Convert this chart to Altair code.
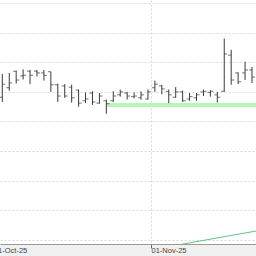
import altair as alt
import pandas as pd

# OHLC prices per trading day (index 0 = first visible bar)
highs  = [12.80, 12.82, 12.86, 12.88, 12.87, 12.87, 12.87, 12.84, 12.64, 12.63,
          12.62, 12.54, 12.49, 12.51, 12.48, 12.37, 12.51, 12.54, 12.50, 12.49,
          12.51, 12.54, 12.69, 12.62, 12.54, 12.58, 12.52, 12.48, 12.48, 12.54,
          12.53, 12.50, 13.40, 13.21, 12.83, 13.01, 12.92]
lows   = [12.33, 12.52, 12.64, 12.71, 12.63, 12.76, 12.69, 12.50, 12.33, 12.40,
          12.32, 12.25, 12.31, 12.28, 12.30, 12.13, 12.33, 12.42, 12.37, 12.39,
          12.37, 12.37, 12.50, 12.46, 12.31, 12.40, 12.33, 12.35, 12.35, 12.43,
          12.42, 12.32, 12.50, 12.62, 12.63, 12.70, 12.65]
opens  = [12.41, 12.57, 12.85, 12.77, 12.85, 12.85, 12.82, 12.84, 12.62, 12.60,
          12.58, 12.53, 12.35, 12.48, 12.31, 12.35, 12.35, 12.45, 12.48, 12.42,
          12.40, 12.38, 12.57, 12.60, 12.51, 12.41, 12.50, 12.38, 12.40, 12.50,
          12.49, 12.45, 12.51, 13.12, 12.82, 12.82, 12.87]
closes = [12.63, 12.65, 12.70, 12.78, 12.78, 12.82, 12.78, 12.62, 12.43, 12.43,
          12.40, 12.31, 12.38, 12.33, 12.43, 12.30, 12.43, 12.50, 12.43, 12.43,
          12.45, 12.50, 12.63, 12.55, 12.45, 12.50, 12.35, 12.42, 12.45, 12.51,
          12.51, 12.41, 13.14, 12.70, 12.67, 12.87, 12.75]
bar_index = list(range(len(highs)))

# horizontal support zone
support_level = [12.28]
support_from = [15]
support_to = [37]

# rising trend line
trend_x = [25.0, 37.0]
trend_y = [9.91, 10.16]

# axis
month_labels = ["01-Oct-25", "01-Nov-25"]
month_pos = [-1.35, 21.37]
price_grid = [10.0, 10.5, 11.0, 11.5, 12.0, 12.5, 13.0, 13.5, 14.0]

df = pd.DataFrame({"i": bar_index, "high": highs, "low": lows,
                   "open": opens, "close": closes})
sup = pd.DataFrame({"x": support_from, "x2": support_to, "y": support_level})
trend = pd.DataFrame({"x": trend_x, "y": trend_y})
months = pd.DataFrame({"pos": month_pos, "label": month_labels})

xs = alt.Scale(domain=[-0.332, 36.578], nice=False, zero=False)
ys = alt.Scale(domain=[9.9325, 14.0506], nice=False, zero=False)

x_axis = alt.Axis(values=month_pos, labels=False, title=None,
                  grid=True, gridColor="#d9d9d9", gridDash=[2, 2],
                  tickSize=4, tickColor="#666", domainColor="#9a9a9a")
y_axis = alt.Axis(values=price_grid, labels=False, ticks=False, domain=False,
                  title=None, grid=True, gridColor="#d9d9d9", gridDash=[2, 2])

X = lambda f: alt.X(f, scale=xs, axis=x_axis)
Y = lambda f: alt.Y(f, scale=ys, axis=y_axis)

band = alt.Chart(sup).mark_rule(color="#b8f5b8", strokeWidth=4, clip=True).encode(
    x=X("x:Q"), x2="x2:Q", y=Y("y:Q"),
)

trend_line = alt.Chart(trend).mark_line(color="#5cc488", strokeWidth=1, clip=True).encode(
    x=X("x:Q"), y=Y("y:Q"),
)

stems = alt.Chart(df).mark_rule(color="#3a3a3a", strokeWidth=1).encode(
    x=X("i:Q"), y=Y("low:Q"), y2="high:Q",
)

open_ticks = alt.Chart(df).mark_tick(color="#3a3a3a", orient="horizontal",
                                     size=3, thickness=1, xOffset=-1.5).encode(
    x=X("i:Q"), y=Y("open:Q"),
)

close_ticks = alt.Chart(df).mark_tick(color="#3a3a3a", orient="horizontal",
                                      size=3, thickness=1, xOffset=1.5).encode(
    x=X("i:Q"), y=Y("close:Q"),
)

month_text = alt.Chart(months).mark_text(
    align="left", baseline="middle", dx=1, font="Liberation Sans",
    fontSize=7.5, color="#444",
).encode(
    x=X("pos:Q"), y=alt.value(251), text="label:N",
)

chart = alt.layer(band, trend_line, stems, open_ticks, close_ticks, month_text).properties(
    width=256, height=244,
    background="#f0f0f0",
    padding={"left": 0, "top": 0, "right": 0, "bottom": 12},
    autosize=alt.AutoSizeParams(type="none"),
).configure_view(stroke=None, fill="white")

chart.save("out.html", embed_options={"renderer": "svg", "actions": False})
